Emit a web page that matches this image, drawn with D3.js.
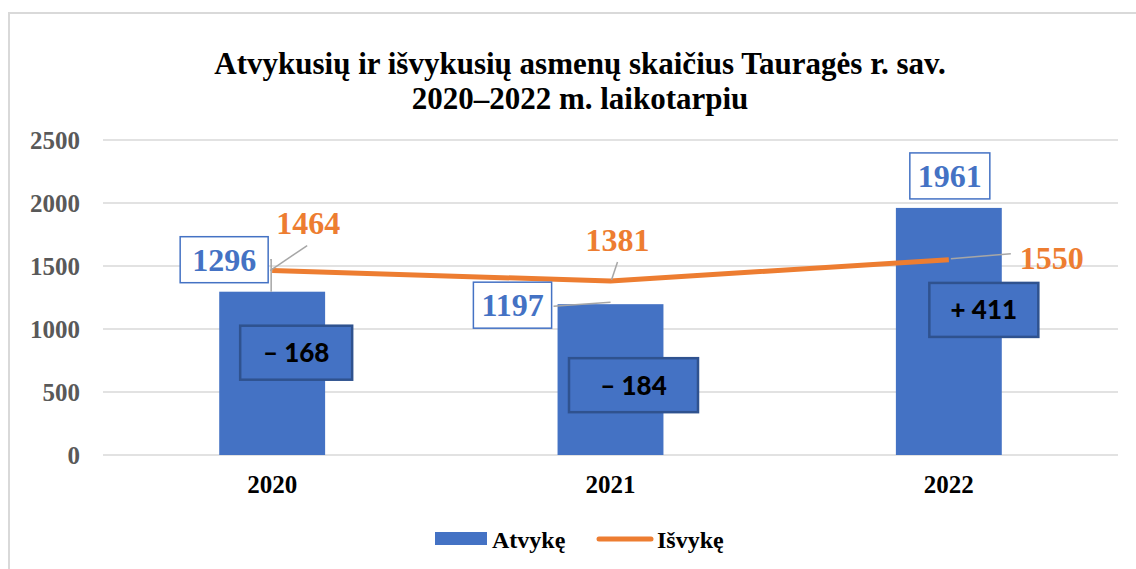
<!DOCTYPE html>
<html>
<head>
<meta charset="utf-8">
<script src="https://cdn.jsdelivr.net/npm/d3@7"></script>
<style>
  body { margin: 0; background: #fff; }
  svg { display: block; }
  svg text { font-family: "Liberation Serif", "Times New Roman", "DejaVu Serif", serif; font-weight: bold; }
</style>
</head>
<body>
<div id="chart"></div>
<script>
// data
var years = ['2020', '2021', '2022']
var arrived = [1296, 1197, 1961]
var departed = [1464, 1381, 1550]
var yTicks = [0, 500, 1000, 1500, 2000, 2500]
var titleLines = ['Atvykusių ir išvykusių asmenų skaičius Tauragės r. sav.', '2020–2022 m. laikotarpiu']
var seriesNames = ['Atvykę', 'Išvykę']

var serif = '"Liberation Serif", "Times New Roman", "DejaVu Serif", serif'
var blue = '#4472C4'
var orange = '#ED7D31'
var grid = '#d9d9d9'

var W = 1136, H = 569
var margin = { top: 140, right: 18, bottom: 114, left: 103 }
var width = W - margin.left - margin.right
var height = 455 - margin.top

var svg = d3.select('#chart').append('svg')
  .attr('width', W)
  .attr('height', H)

// outer chart frame
svg.append('rect')
  .attr('x', 9).attr('y', 13)
  .attr('width', W + 20).attr('height', H + 20)
  .attr('fill', 'none')
  .attr('stroke', grid)
  .attr('stroke-width', 2)

// title
svg.append('text')
  .attr('x', 580).attr('y', 74)
  .attr('text-anchor', 'middle')
  .style('font-family', serif)
  .style('font-size', '31px')
  .selectAll('tspan').data(titleLines).enter().append('tspan')
  .attr('x', 580)
  .attr('dy', function (d, i) { return i == 0 ? 0 : 35 })
  .text(function (d) { return d })

var g = svg.append('g').attr('transform', 'translate(' + margin.left + ',' + margin.top + ')')

var x = d3.scaleBand()
  .domain(years)
  .range([0, width])
  .paddingInner(0.687)
  .paddingOuter(0.3435)

var y = d3.scaleLinear()
  .domain([0, 2500])
  .range([height, 0])

// gridlines
g.selectAll('.grid').data(yTicks).enter().append('line')
  .attr('class', 'grid')
  .attr('x1', 0).attr('x2', width)
  .attr('y1', function (d) { return y(d) })
  .attr('y2', function (d) { return y(d) })
  .attr('stroke', grid)
  .attr('stroke-width', 1.5)

// y axis labels
var yAxis = g.append('g')
  .call(d3.axisLeft(y).tickValues(yTicks).tickFormat(d3.format('d')).tickSize(0).tickPadding(23))
yAxis.select('.domain').remove()
yAxis.attr('font-family', null)
yAxis.selectAll('text')
  .style('font-size', '25px')
  .style('font-family', serif)
  .attr('fill', '#595959')

// x axis labels
var xAxis = g.append('g')
  .attr('transform', 'translate(0,' + height + ')')
  .call(d3.axisBottom(x).tickSize(0).tickPadding(20))
xAxis.select('.domain').remove()
xAxis.attr('font-family', null)
xAxis.selectAll('text')
  .style('font-size', '25px')
  .style('font-family', serif)
  .attr('fill', '#000')

var rows = years.map(function (d, i) {
  return { year: d, a: arrived[i], d: departed[i], diff: arrived[i] - departed[i] }
})
function cx(d) { return x(d.year) + x.bandwidth() / 2 }

// bars
g.selectAll('.bar').data(rows).enter().append('rect')
  .attr('class', 'bar')
  .attr('x', function (d) { return x(d.year) })
  .attr('y', function (d) { return y(d.a) })
  .attr('width', x.bandwidth())
  .attr('height', function (d) { return height - y(d.a) })
  .attr('fill', blue)

// line
var line = d3.line()
  .x(cx)
  .y(function (d) { return y(d.d) })
g.append('path')
  .datum(rows)
  .attr('d', line)
  .attr('fill', 'none')
  .attr('stroke', orange)
  .attr('stroke-width', 5)
  .attr('stroke-linejoin', 'round')

// label placement offsets (pixels from the data point)
var aOff = [[-48, -32], [-98, 1], [1, -32]]
var aPad = [12, 8, 8]
var dOff = [[36, -48], [7, -41], [103, -2]]
var diffOff = [[24, 61], [23, 81], [35, 102]]

// leader lines
var leaderColor = '#a6a6a6'
rows.forEach(function (d, i) {
  var px = cx(d), py = y(d.a)
  var lx = px + aOff[i][0], ly = py + aOff[i][1]
  if (i == 0) {
    g.append('polyline')
      .attr('points', [[lx + 46, ly], [px - 1, ly], [px - 1, py]].join(' '))
      .attr('fill', 'none').attr('stroke', leaderColor).attr('stroke-width', 1.5)
  } else if (i == 1) {
    g.append('line')
      .attr('x1', lx + 41).attr('y1', ly + 1).attr('x2', px).attr('y2', py - 2)
      .attr('stroke', leaderColor).attr('stroke-width', 1.5)
  }
  var qx = cx(d), qy = y(d.d)
  var tx = qx + dOff[i][0], ty = qy + dOff[i][1]
  if (i == 0) {
    g.append('line')
      .attr('x1', tx - 1).attr('y1', ty + 23).attr('x2', qx - 2).attr('y2', qy)
      .attr('stroke', leaderColor).attr('stroke-width', 1.5)
  } else if (i == 1) {
    g.append('line')
      .attr('x1', tx).attr('y1', ty + 22).attr('x2', qx + 1).attr('y2', qy - 1)
      .attr('stroke', leaderColor).attr('stroke-width', 1.5)
  } else {
    g.append('line')
      .attr('x1', tx - 41).attr('y1', ty - 4).attr('x2', qx + 2).attr('y2', qy - 1)
      .attr('stroke', leaderColor).attr('stroke-width', 1.5)
  }
})

// arrival labels with boxes
var aLab = g.selectAll('.alab').data(rows).enter().append('g')
  .attr('class', 'alab')
  .attr('transform', function (d, i) {
    return 'translate(' + (cx(d) + aOff[i][0]) + ',' + (y(d.a) + aOff[i][1]) + ')'
  })
aLab.append('text')
  .attr('text-anchor', 'middle')
  .attr('dy', '0.35em')
  .style('font-family', serif)
  .style('font-size', '32px')
  .attr('fill', blue)
  .text(function (d) { return d.a })
aLab.each(function (d, i) {
  var t = d3.select(this).select('text').node().getBBox()
  d3.select(this).insert('rect', 'text')
    .attr('x', t.x - aPad[i]).attr('y', -23)
    .attr('width', t.width + 2 * aPad[i]).attr('height', 46)
    .attr('fill', '#fff')
    .attr('stroke', blue)
    .attr('stroke-width', 1.5)
})

// departure labels
g.selectAll('.dlab').data(rows).enter().append('text')
  .attr('class', 'dlab')
  .attr('x', function (d, i) { return cx(d) + dOff[i][0] })
  .attr('y', function (d, i) { return y(d.d) + dOff[i][1] })
  .attr('text-anchor', 'middle')
  .attr('dy', '0.35em')
  .style('font-family', serif)
  .style('font-size', '32px')
  .attr('fill', orange)
  .text(function (d) { return d.d })

// difference boxes
var diffW = [112, 129, 109]
var dBox = g.selectAll('.diff').data(rows).enter().append('g')
  .attr('class', 'diff')
  .attr('transform', function (d, i) {
    return 'translate(' + (cx(d) + diffOff[i][0]) + ',' + (y(d.a) + diffOff[i][1]) + ')'
  })
dBox.append('rect')
  .attr('x', function (d, i) { return -diffW[i] / 2 })
  .attr('y', -27)
  .attr('width', function (d, i) { return diffW[i] })
  .attr('height', 54)
  .attr('fill', blue)
  .attr('stroke', '#2F528F')
  .attr('stroke-width', 2.5)
dBox.append('text')
  .attr('text-anchor', 'middle')
  .attr('dy', '0.36em')
  .style('font-family', 'Lato, "Open Sans", sans-serif')
  .style('font-size', '26px')
  .style('font-weight', '900')
  .attr('fill', '#000')
  .text(function (d) { return (d.diff < 0 ? '– ' : '+ ') + Math.abs(d.diff) })

// legend
var legend = svg.append('g').attr('transform', 'translate(435,538)')
legend.append('rect')
  .attr('x', 0).attr('y', -6)
  .attr('width', 52).attr('height', 13)
  .attr('fill', blue)
legend.append('text')
  .attr('x', 57).attr('y', 10)
  .style('font-family', serif)
  .style('font-size', '24px')
  .text(seriesNames[0])
legend.append('line')
  .attr('x1', 164).attr('x2', 216)
  .attr('y1', 1).attr('y2', 1)
  .attr('stroke', orange)
  .attr('stroke-width', 5)
  .attr('stroke-linecap', 'round')
legend.append('text')
  .attr('x', 222).attr('y', 10)
  .style('font-family', serif)
  .style('font-size', '24px')
  .text(seriesNames[1])
</script>
</body>
</html>
